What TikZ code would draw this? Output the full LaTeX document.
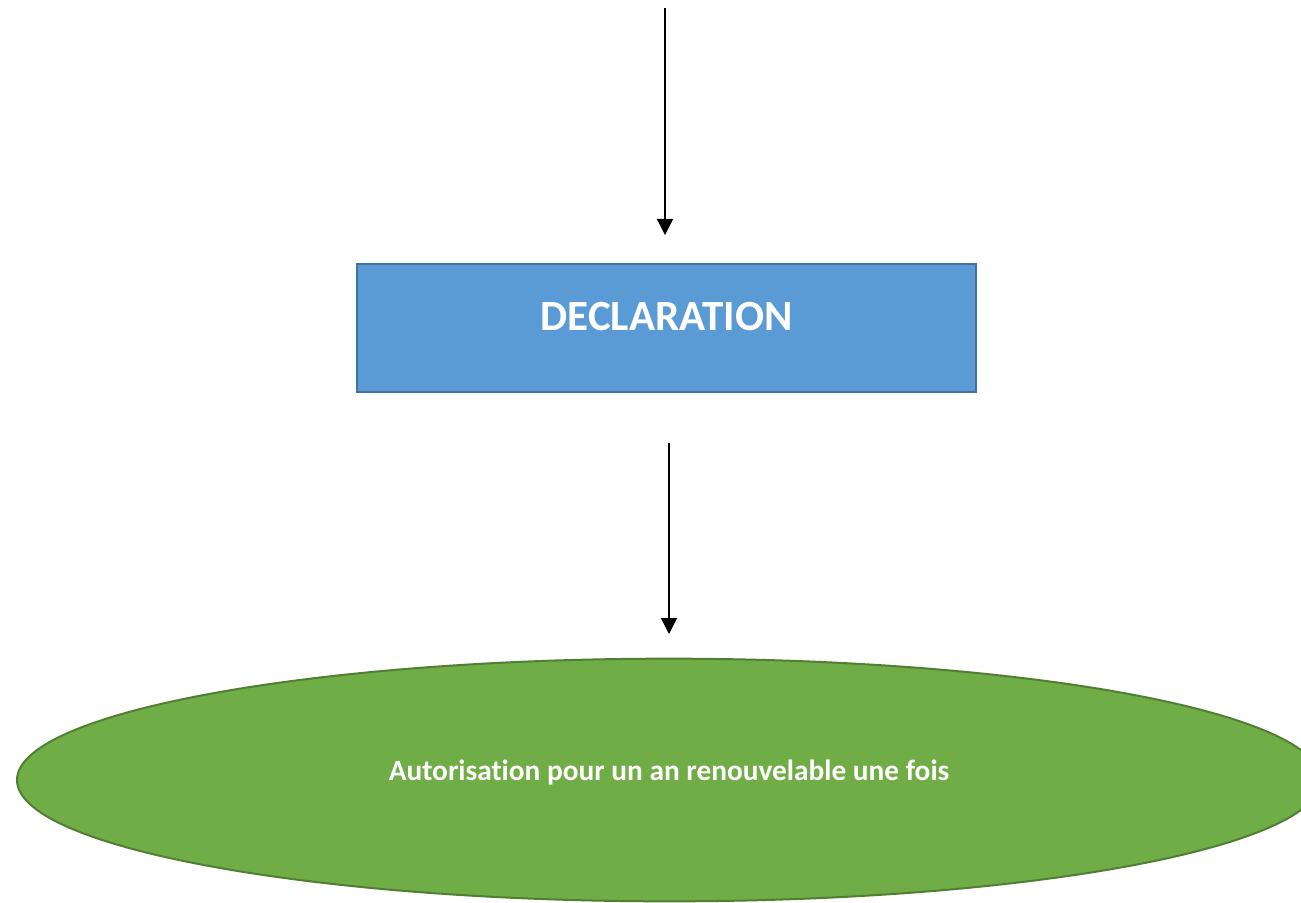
\documentclass[tikz,border=0pt]{standalone}
\usepackage{fontspec}
\setmainfont[Ligatures=NoCommon]{Carlito}
\usetikzlibrary{shapes.geometric,arrows.meta}
\definecolor{declfill}{HTML}{5B9BD5}
\definecolor{decldraw}{HTML}{41719C}
\definecolor{autofill}{HTML}{70AD47}
\definecolor{autodraw}{HTML}{507E32}
\tikzset{
  flowarrow/.style={line width=1pt,-{Triangle[width=12pt,length=12pt]}},
  declbox/.style={draw=decldraw,fill=declfill,line width=1.5pt,minimum width=464pt,minimum height=96pt,inner sep=0pt,text=white,text height=20pt,text depth=16.5pt,font=\bfseries\fontsize{32.3}{36}\selectfont},
  autoellipse/.style={ellipse,draw=autodraw,fill=autofill,line width=1.5pt,minimum width=978pt,minimum height=182pt,inner sep=0pt,text=white,text height=12pt,text depth=12pt,font=\bfseries\fontsize{22}{26}\selectfont}
}
\begin{document}
\begin{tikzpicture}[x=0.75pt,y=-0.75pt]
\useasboundingbox (0,0) rectangle (1301,902);
\coordinate (s1) at (665,8);
\coordinate (t1) at (665,235);
\coordinate (s2) at (669,443);
\coordinate (t2) at (669,634);
\node[declbox] (decl) at (666.5,328) {DECLARATION};
\node[autoellipse] (auto) at (669,780) {Autorisation pour un an renouvelable une fois};
\draw[flowarrow] (s1) -- (t1);
\draw[flowarrow] (s2) -- (t2);
\end{tikzpicture}
\end{document}
